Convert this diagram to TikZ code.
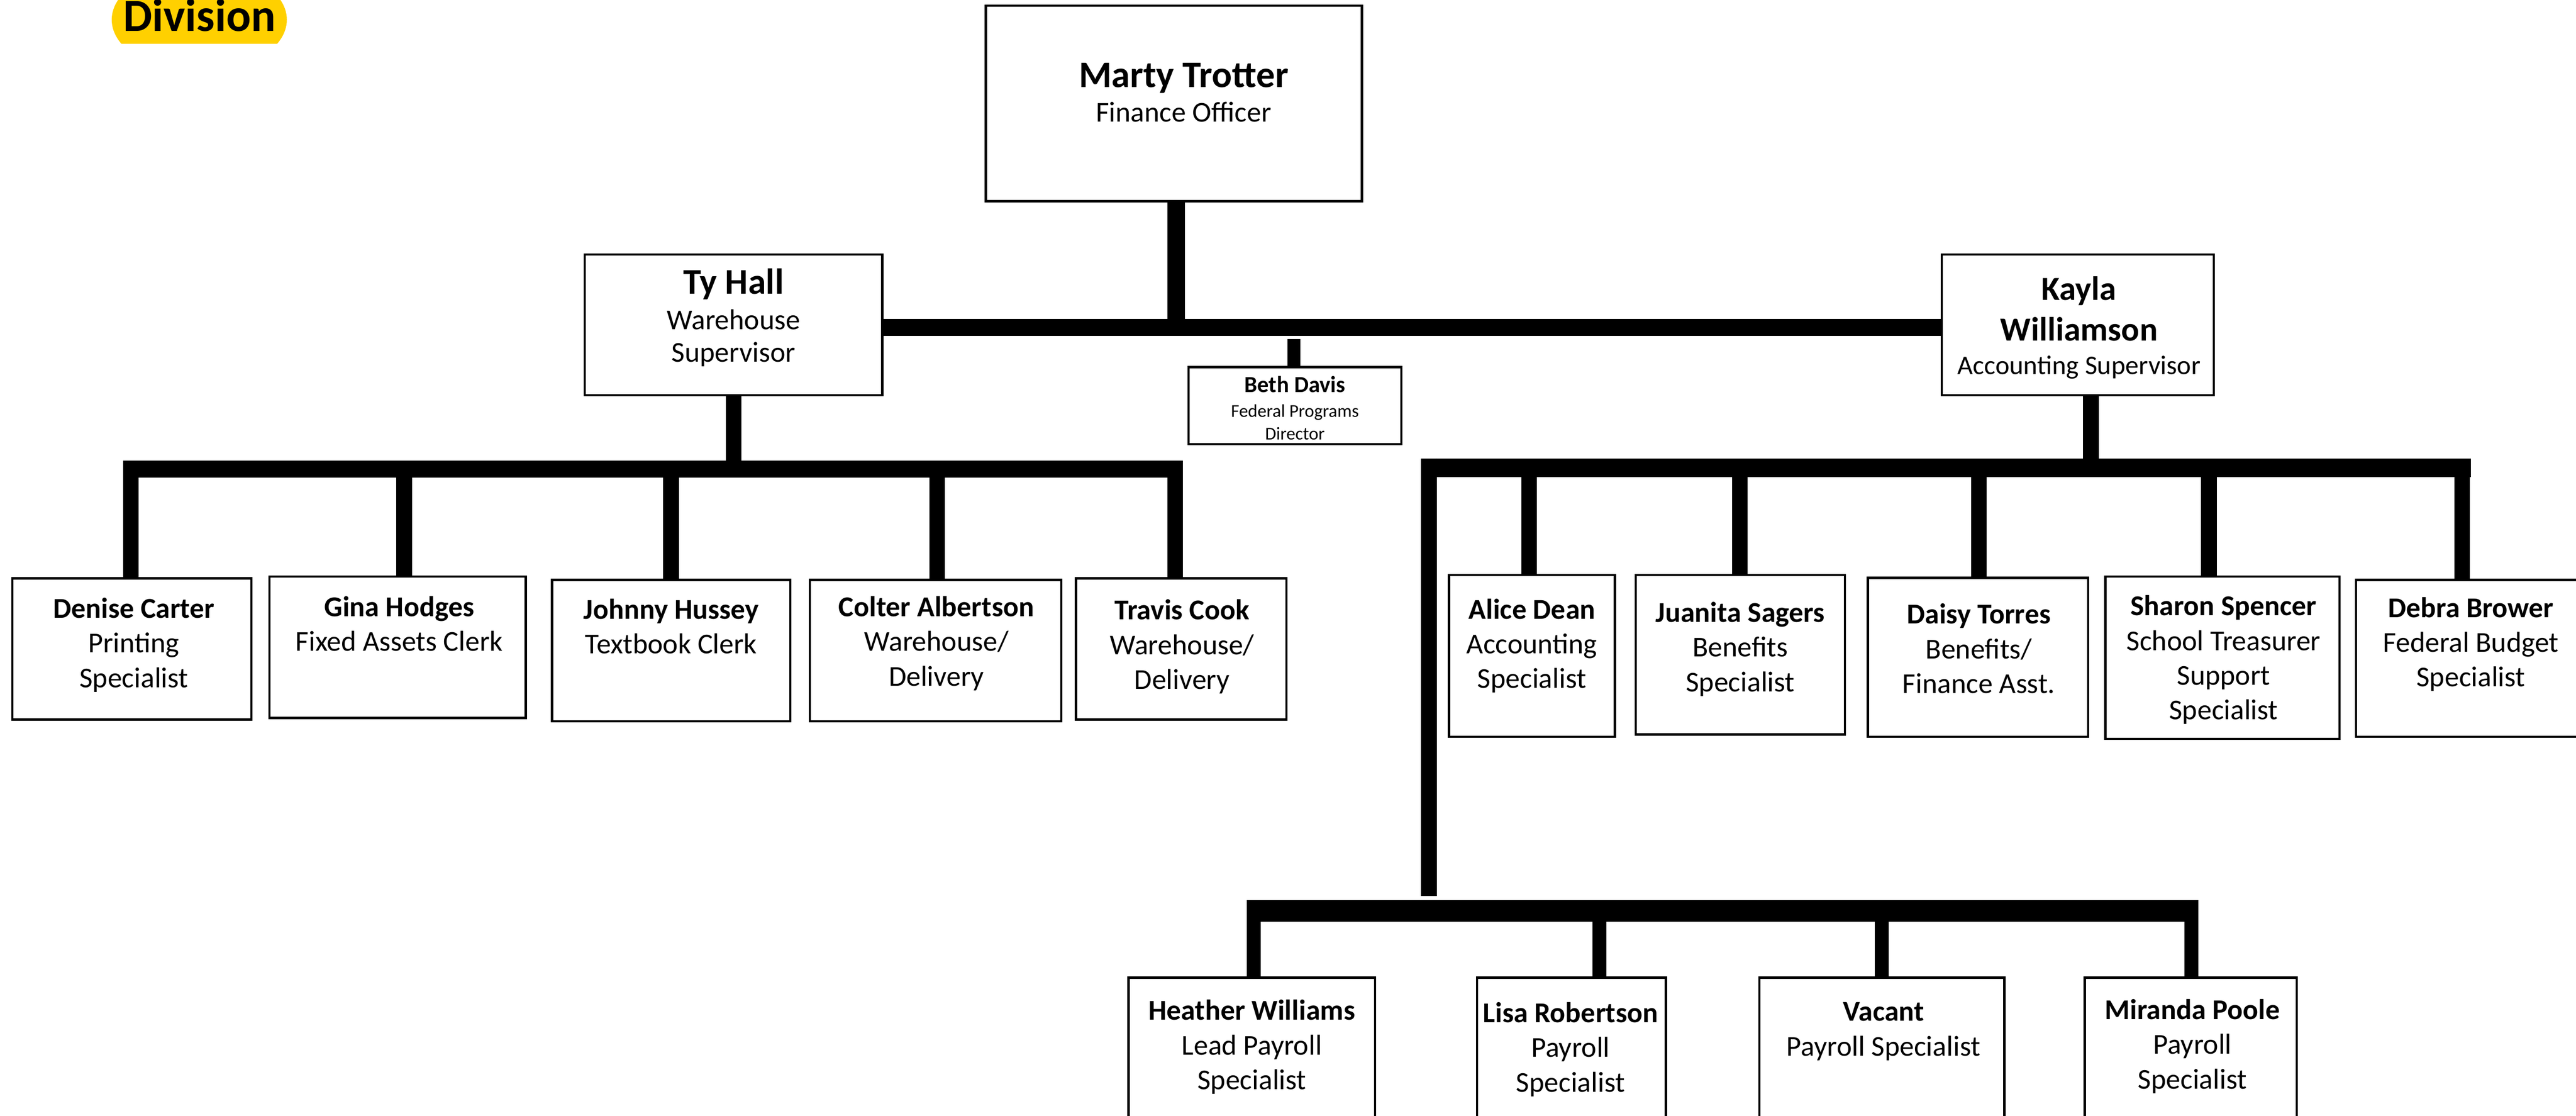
\documentclass[tikz,border=0pt]{standalone}
\usepackage{fontspec}
\setmainfont{Carlito}
\usetikzlibrary{fit}
\definecolor{badge}{RGB}{255,208,0}
\newcommand\ptext[4]{\node[txt] (#1) at (#2,{#3-16}) {\rule{0pt}{16pt}#4};}
\begin{document}
\begin{tikzpicture}[x=1pt,y=-1pt,
  box/.style={draw, line width=1.4pt, inner sep=0pt},
  txt/.style={align=center, inner sep=0pt, anchor=north, font=\fontsize{17.5}{21.1}\selectfont},
  bar/.style={line width=10.4pt},
  stemline/.style={line width=10.6pt},
  drop/.style={line width=9.5pt},
  lowbar/.style={line width=13pt},
  lowdrop/.style={line width=8.5pt}]
\useasboundingbox (0,0) rectangle (1568,679);
\clip (0,0) rectangle (1568,679);

% badge
\begin{scope}
  \clip (0,-60) rectangle (300,26.4);
  \fill[badge] (121.3,12) ellipse (53.3 and 32);
\end{scope}
\node[anchor=base, inner sep=0pt, font=\fontsize{28}{30}\selectfont\bfseries] (div) at (121.5,19.1) {Division};

% boxes
\node[box, fit={(600,3.5) (829,122.5)}] (marty) {};
\node[box, fit={(356,155) (537,240.5)}] (ty) {};
\node[box, fit={(1182,155) (1347.5,240.5)}] (kayla) {};
\node[box, fit={(723.5,223.5) (853,270.3)}] (beth) {};
\node[box, fit={(7.6,352) (153,438)}] (denise) {};
\node[box, fit={(164,351) (320,437)}] (gina) {};
\node[box, fit={(336,353) (481,439)}] (johnny) {};
\node[box, fit={(493,353) (646,439)}] (colter) {};
\node[box, fit={(655,352) (783,438)}] (travis) {};
\node[box, fit={(882,350) (983,448.5)}] (alice) {};
\node[box, fit={(995.6,350) (1123,447)}] (juanita) {};
\node[box, fit={(1137,351.7) (1271,448.5)}] (daisy) {};
\node[box, fit={(1281.5,351) (1424,449.7)}] (sharon) {};
\node[box, fit={(1434,353) (1575,448.5)}] (debra) {};
\node[box, fit={(687,595) (837,700)}] (heather) {};
\node[box, fit={(899,595) (1014,700)}] (lisa) {};
\node[box, fit={(1071,595) (1220,700)}] (vacant) {};
\node[box, fit={(1269,595) (1398,700)}] (miranda) {};

% texts of the top boxes
\node[txt] (marty-t) at (720.5,{53-18}) {\rule{0pt}{18pt}{\fontsize{22.8}{26}\selectfont\bfseries Marty Trotter}\\Finance Officer};
\node[txt, font=\fontsize{17.5}{20}\selectfont] (ty-t) at (446.5,{178.7-18}) {\rule{0pt}{18pt}{\fontsize{22}{26}\selectfont\bfseries Ty Hall}\\[1.5pt]Warehouse\\Supervisor};
\node[txt, font=\fontsize{16.3}{20.5}\selectfont] (kayla-t) at (1265.5,{182.4-18}) {\rule{0pt}{18pt}{\fontsize{20.5}{24}\selectfont\bfseries Kayla}\\[4.2pt]{\fontsize{20.5}{24}\selectfont\bfseries Williamson}\\Accounting Supervisor};
\node[txt, font=\fontsize{11}{13.6}\selectfont] (beth-t) at (788.2,{238.5-13}) {\rule{0pt}{13pt}{\fontsize{14}{16}\selectfont\bfseries Beth Davis}\\[1.7pt]Federal Programs\\Director};

% texts of the staff boxes
\ptext{denise-t}{81.5}{376}{\textbf{Denise Carter}\\Printing\\Specialist}
\ptext{gina-t}{243}{375}{\textbf{Gina Hodges}\\Fixed Assets Clerk}
\ptext{johnny-t}{408.5}{376.5}{\textbf{Johnny Hussey}\\Textbook Clerk}
\ptext{colter-t}{570}{375}{\textbf{Colter Albertson}\\Warehouse/\\Delivery}
\ptext{travis-t}{719.5}{377}{\textbf{Travis Cook}\\Warehouse/\\Delivery}
\ptext{alice-t}{932.5}{376.5}{\textbf{Alice Dean}\\Accounting\\Specialist}
\ptext{juanita-t}{1059.3}{378.5}{\textbf{Juanita Sagers}\\Benefits\\Specialist}
\ptext{daisy-t}{1204.5}{379.5}{\textbf{Daisy Torres}\\Benefits/\\Finance Asst.}
\ptext{sharon-t}{1353.5}{374.5}{\textbf{Sharon Spencer}\\School Treasurer\\Support\\Specialist}
\ptext{debra-t}{1504}{375.5}{\textbf{Debra Brower}\\Federal Budget\\Specialist}
\ptext{heather-t}{762}{620.7}{\textbf{Heather Williams}\\Lead Payroll\\Specialist}
\ptext{lisa-t}{956}{622.2}{\textbf{Lisa Robertson}\\Payroll\\Specialist}
\ptext{vacant-t}{1146.5}{621.3}{\textbf{Vacant}\\Payroll Specialist}
\ptext{miranda-t}{1334.5}{620.3}{\textbf{Miranda Poole}\\Payroll\\Specialist}

% junction coordinates
\coordinate (mb) at (716,199.3);
\coordinate (bethtop) at (787.6,206.4);
\coordinate (lbL) at (75,285.6);
\coordinate (lbR) at (720,285.6);
\coordinate (rbL) at (865,284.7);
\coordinate (rbR) at (1504,284.7);
\coordinate (bigtop) at (869.75,279);
\coordinate (bigbot) at (869.75,545.5);
\coordinate (lowL) at (759,554.5);
\coordinate (lowR) at (1338,554.5);

% main level
\draw[stemline] ([xshift=1.5pt]marty.south) -- (mb);
\draw[bar, line width=10.6pt] (ty.east |- mb) -- (kayla.west |- mb);
\draw[line width=8pt] (bethtop) -- (bethtop |- beth.north);

% left branch
\draw[drop] (ty.south) -- (ty.south |- lbL);
\draw[bar] (lbL) -- (lbR);
\foreach \x/\n in {79.75/denise, 246/gina, 408.5/johnny, 570.5/colter, 715.25/travis}
  \draw[drop] (\x,285.6) -- (\x,285.6 |- \n.north);

% right branch
\draw[drop] ([xshift=8pt]kayla.south) -- ([xshift=8pt]kayla.south |- rbL);
\draw[bar, line width=11.4pt] (rbL) -- (rbR);
\foreach \x/\n in {930.75/alice, 1059/juanita, 1204.5/daisy, 1344.5/sharon, 1498.75/debra}
  \draw[drop] (\x,284.7) -- (\x,284.7 |- \n.north);
\draw[drop] (bigtop) -- (bigbot);

% payroll branch
\draw[lowbar] (lowL) -- (lowR);
\foreach \x/\n in {763.25/heather, 973.5/lisa, 1145.5/vacant, 1333.75/miranda}
  \draw[lowdrop] (\x,554.5) -- (\x,554.5 |- \n.north);
\end{tikzpicture}
\end{document}
